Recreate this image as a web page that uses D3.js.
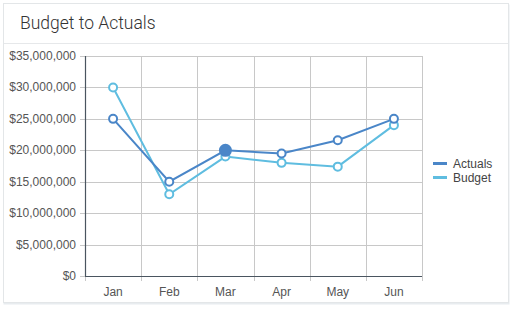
<!DOCTYPE html>
<html><head><meta charset="utf-8">
<script src="https://cdn.jsdelivr.net/npm/d3@7"></script>
<style>
body{margin:0;background:#fff;font-family:"Liberation Sans",Arial,sans-serif;}
</style></head>
<body><svg id="c" width="512" height="309"></svg>
<script>
const categories = ["Jan","Feb","Mar","Apr","May","Jun"];
const actuals = [25000000,15000000,20000000,19500000,21600000,25000000];
const budget = [30000000,13000000,19000000,18000000,17400000,24000000];
const yTicks = [0,5000000,10000000,15000000,20000000,25000000,30000000,35000000];
const seriesNames = ["Actuals","Budget"];
const colors = ["#4a86c8","#5fbde0"];

const svg = d3.select("#c");
// card
svg.append("rect").attr("x",3.5).attr("y",4.5).attr("width",506).attr("height",300).attr("fill","#e8ecef");
svg.append("rect").attr("x",3.5).attr("y",3.5).attr("width",505).attr("height",299).attr("fill","#fff").attr("stroke","#e3e6e8");
svg.append("line").attr("x1",4).attr("x2",508).attr("y1",43.5).attr("y2",43.5).attr("stroke","#e6e8ea");
svg.append("text").attr("x",20).attr("y",29).text("Budget to Actuals")
  .attr("font-size",17.5).attr("font-weight",300).attr("fill","#333").attr("font-family","Roboto");

const m = {l:85,r:422,t:56,b:276};
const x = d3.scaleBand().domain(categories).range([m.l,m.r]);
const y = d3.scaleLinear().domain([0,35000000]).range([m.b,m.t]);

// grid
const g = svg.append("g");
g.selectAll(".hg").data(yTicks).join("line")
  .attr("x1",m.l-5).attr("x2",m.r).attr("y1",d=>Math.round(y(d))+0.5).attr("y2",d=>Math.round(y(d))+0.5)
  .attr("stroke","#c8c8c8");
const edges = categories.map(c=>x(c)).concat([m.r]);
g.selectAll(".vg").data(edges).join("line")
  .attr("x1",d=>Math.round(d)+0.5).attr("x2",d=>Math.round(d)+0.5).attr("y1",m.t).attr("y2",m.b+5)
  .attr("stroke","#c8c8c8");
// axes lines
svg.append("line").attr("x1",m.l+0.5).attr("x2",m.l+0.5).attr("y1",m.t).attr("y2",m.b).attr("stroke","#4a5560").attr("stroke-width",1.2);
svg.append("line").attr("x1",m.l).attr("x2",m.r).attr("y1",m.b+0.5).attr("y2",m.b+0.5).attr("stroke","#4a5560").attr("stroke-width",1.2);

const fmt = d3.format("$,");
svg.selectAll(".yl").data(yTicks).join("text")
  .attr("x",76).attr("y",d=>y(d)+4).attr("text-anchor","end")
  .attr("font-size",12).attr("fill","#555").text(d=>fmt(d));
svg.selectAll(".xl").data(categories).join("text")
  .attr("x",d=>x(d)+x.bandwidth()/2).attr("y",296).attr("text-anchor","middle")
  .attr("font-size",12).attr("fill","#555").text(d=>d);

const data = [actuals,budget];
const line = d3.line().x((d,i)=>x(categories[i])+x.bandwidth()/2).y(d=>y(d));
[1,0].forEach(s=>{
  svg.append("path").datum(data[s]).attr("d",line).attr("fill","none")
    .attr("stroke",colors[s]).attr("stroke-width",2);
});
[1,0].forEach(s=>{
  svg.selectAll(".pt"+s).data(data[s]).join("circle")
    .attr("cx",(d,i)=>x(categories[i])+x.bandwidth()/2).attr("cy",d=>y(d))
    .attr("r",(d,i)=> (s===0&&i===2)?5.5:4)
    .attr("fill",(d,i)=> (s===0&&i===2)?colors[s]:"#fff")
    .attr("stroke",colors[s]).attr("stroke-width",2);
});

// legend
seriesNames.forEach((n,i)=>{
  const ly = 164 + i*14;
  svg.append("line").attr("x1",433).attr("x2",447).attr("y1",ly-0.5).attr("y2",ly-0.5)
    .attr("stroke",colors[i]).attr("stroke-width",3);
  svg.append("text").attr("x",453).attr("y",ly+4).attr("font-size",12).attr("fill","#444").text(n);
});
</script></body></html>
